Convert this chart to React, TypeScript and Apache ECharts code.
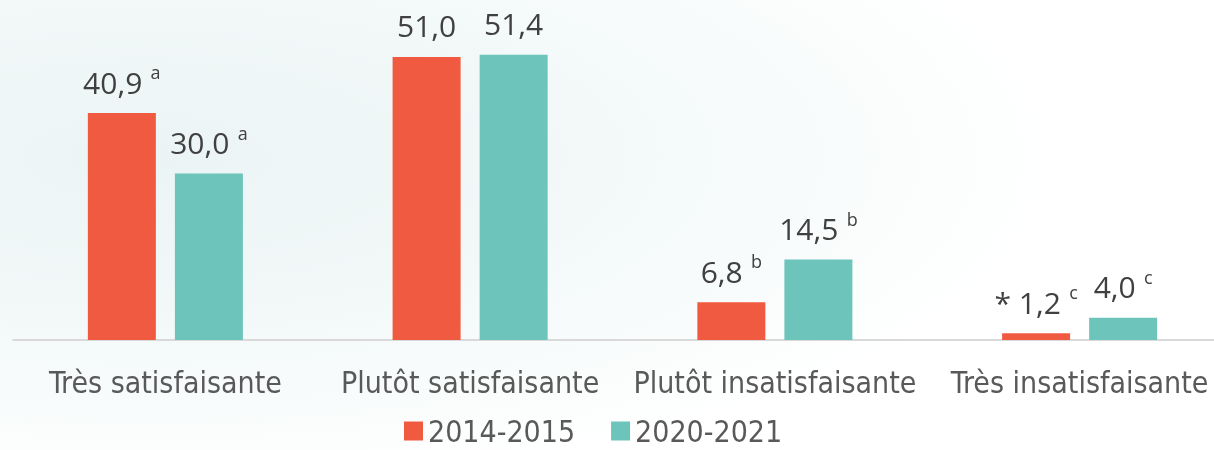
import React, { useEffect, useRef } from "react";
import * as echarts from "echarts";

const categories = ["Très satisfaisante", "Plutôt satisfaisante", "Plutôt insatisfaisante", "Très insatisfaisante"];
const seriesNames = ["2014-2015", "2020-2021"];
const values2014 = [40.9, 51.0, 6.8, 1.2];
const values2020 = [30.0, 51.4, 14.5, 4.0];
const sup2014 = ["a", "", "b", "c"];
const sup2020 = ["a", "", "b", "c"];
const prefix2014 = ["", "", "", "* "];
const prefix2020 = ["", "", "", ""];

const fmt = (v: number) => v.toFixed(1).replace(".", ",");
const NARROW = "DejaVu Sans Condensed";

export default function App() {
  const ref = useRef<HTMLDivElement>(null);
  useEffect(() => {
    if (!ref.current) return;
    const chart = echarts.init(ref.current, null, { renderer: "svg" });
    const makeLabel = (sups: string[], prefixes: string[]) => ({
      show: true,
      position: "top",
      distance: 12,
      formatter: (p: any) => {
        const i = p.dataIndex;
        const s = sups[i];
        return `{v|${prefixes[i]}${fmt(p.value)}}` + (s ? `{g| }{s|${s}}` : "");
      },
      rich: {
        v: { fontFamily: "Open Sans", fontSize: 30, color: "#404040", lineHeight: 38 },
        g: { fontFamily: "Open Sans", fontSize: 32, lineHeight: 38 },
        s: { fontFamily: "Open Sans", fontSize: 18, color: "#404040", verticalAlign: "top", lineHeight: 38, padding: [0, 0, 10, 0] },
      },
    });
    chart.setOption({
      animation: false,
      backgroundColor: {
        type: "radial",
        x: 0.12,
        y: 0.35,
        r: 0.75,
        colorStops: [
          { offset: 0, color: "#ebf4f5" },
          { offset: 0.45, color: "#f2f8f8" },
          { offset: 1, color: "#ffffff" },
        ],
      },
      legend: {
        bottom: -2,
        left: 399,
        itemWidth: 19,
        itemHeight: 19,
        itemGap: 36,
        icon: "rect",
        textStyle: { fontFamily: NARROW, fontSize: 30, lineHeight: 32, color: "#595959" },
        data: seriesNames,
      },
      grid: { left: 13, right: 0, top: 7, height: 333 },
      xAxis: {
        type: "category",
        data: categories,
        axisTick: { show: false },
        axisLine: { lineStyle: { color: "#d9d9d9", width: 2 } },
        axisLabel: { fontFamily: NARROW, fontSize: 30, color: "#595959", margin: 27, interval: 0 },
      },
      yAxis: {
        type: "value",
        min: 0,
        max: 60,
        show: false,
        splitLine: { show: false },
      },
      series: [
        {
          name: seriesNames[0],
          type: "bar",
          data: values2014,
          barWidth: 68,
          barGap: "28%",
          itemStyle: { color: "#f05a40" },
          label: makeLabel(sup2014, prefix2014),
        },
        {
          name: seriesNames[1],
          type: "bar",
          data: values2020,
          barWidth: 68,
          itemStyle: { color: "#6cc4bb" },
          label: makeLabel(sup2020, prefix2020),
        },
      ],
    });
    return () => chart.dispose();
  }, []);
  return (
    <div style={{ position: "fixed", left: 0, top: 0, width: 1214, height: 450, overflow: "hidden" }}>
      <div ref={ref} style={{ width: 1232, height: 450 }} />
    </div>
  );
}
